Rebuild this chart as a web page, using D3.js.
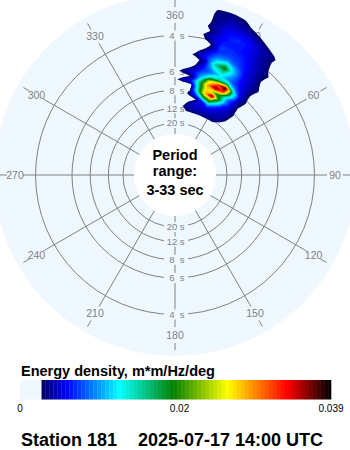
<!DOCTYPE html>
<html><head><meta charset="utf-8">
<script src="https://cdn.jsdelivr.net/npm/d3@7"></script>
<style>body{margin:0;background:#fff} svg{display:block}</style>
</head><body><svg id="c" width="350" height="450"></svg>
<script>
// ---- data ----
const directionBins = [-5,0,5,10,15,20,25,30,35,40,45,50,55];          // deg (from)
const frequencyBins = [0.07,0.08,0.09,0.10,0.11,0.12,0.13,0.14,0.15,0.16,0.17,0.18,0.19,0.20,
                       0.21,0.22,0.23,0.24,0.25,0.26,0.27,0.28,0.29,0.30,0.31,0.32,0.33,0.34]; // Hz
// energy density, 1e-3 m*m/Hz/deg ; rows = frequency, cols = direction
const energyMilli = [
 [0,0,0,0,0,0,0,0,0,0,0,0,0],
 [0,0,1.5,2.8,3.2,3.3,3.3,3.2,2.9,1.5,0,0,0],
 [0,0,2.2,4.0,4.4,4.5,4.5,4.3,3.9,3.0,1.0,0,0],
 [0,0,1.2,2.8,5.0,5.2,5.4,5.0,4.5,4.0,2.0,0,0],
 [0,0,0.8,1.8,2.5,6.0,12,7.0,5.0,4.2,2.3,0,0],
 [0,0,1.5,3.3,8,18,22,13,6.0,4.3,2.6,0,0],
 [0,0,1.2,2.5,14,28,37,19,9,4.5,2.2,0,0],
 [0,0,1.0,1.5,15,27,22,18,9,4.6,1.8,0,0],
 [0,2.0,4.5,6.5,16,29,37,32,14,4.8,2.3,0,0],
 [0,0,1.5,3.2,12,24,30,39,16,5.0,2.6,0,0],
 [0,1.5,4.0,5.5,9,13,15,16,9,4.8,2.2,0,0],
 [0,0,1.5,3.5,7.0,9,12,9,6.5,4.6,2.0,0,0],
 [0,0,0.8,2.0,6.0,12,15,10,6.0,4.4,2.4,0,0],
 [0,0,0.5,1.5,4.5,15,20,11,6.0,4.3,2.8,0,0],
 [0,0,1.2,3.6,6.5,11,14,9.5,5.5,4.2,2.2,0,0],
 [0,0,0.5,2.2,5.5,8.5,9,7.5,5.5,4.0,1.6,0,0],
 [0,0,0,1.2,3.2,7.0,7.5,7.0,5.2,3.8,2.0,0,0],
 [0,0,0,0.8,2.4,7.5,7.0,6.5,5.0,3.6,2.4,0,0],
 [0,0,0,1.5,4.0,6.5,6.5,6.0,4.8,3.5,1.5,0,0],
 [0,0,0,2.0,4.6,6.0,6.5,6.0,4.6,3.2,1.2,0,0],
 [0,0,0,1.2,3.2,6.0,7.0,6.0,4.4,3.0,1.0,0,0],
 [0,0,0,1.5,4.0,5.5,6.0,5.5,4.2,3.3,0.8,0,0],
 [0,0,0,1.2,3.5,5.0,5.0,4.5,3.2,2.0,0,0,0],
 [0,0,0,1.0,3.4,4.5,4.2,3.3,2.0,0.8,0,0,0],
 [0,0,0,1.0,3.3,3.8,3.3,2.0,0.8,0,0,0,0],
 [0,0,0,0.8,3.0,3.2,2.6,1.0,0,0,0,0,0],
 [0,0,0,0.4,1.5,1.5,0.8,0,0,0,0,0,0],
 [0,0,0,0,0,0,0,0,0,0,0,0,0]
];
const periodRange = [3, 33];               // sec
const periodRings = [4, 6, 8, 12, 20];     // sec
const directionTicks = [0,30,60,90,120,150,180,210,240,270,300,330];
const colorStops = [0.0027, 0.0059, 0.0125, 0.0192, 0.026, 0.0335, 0.039];
const colorStopColors = ["#000064","#0000ff","#00ffff","#008000","#ffff00","#ff0000","#000000"];
const colorbarTicks = [0, 0.02, 0.039];
const colorbarTickLabels = ["0", "0.02", "0.039"];
const titleText = "Energy density, m*m/Hz/deg";
const stationText = "Station 181";
const dateText = "2025-07-17 14:00 UTC";

// ---- drawing ----
const svg = d3.select("#c");
const cx = 175, cy = 175, discR = 181;
const grey = "#808080", disc = "#f0f8ff";
const rScale = d3.scaleLinear().domain([1/periodRange[1], 1/periodRange[0]]).range([43.4, 175.9]);
const innerR = 41;
const pol = (deg, r) => { const a = deg*Math.PI/180; return [cx + r*Math.sin(a), cy - r*Math.cos(a)]; };

svg.append("circle").attr("cx",cx).attr("cy",cy).attr("r",discR).attr("fill",disc);

const grid = svg.append("g").attr("stroke",grey).attr("stroke-width",1).attr("fill","none");
periodRings.forEach(p => grid.append("circle").attr("cx",cx).attr("cy",cy).attr("r",rScale(1/p)));
directionTicks.forEach(d => {
  const a = pol(d, innerR), b = pol(d, 152), t0 = pol(d, 168), t1 = pol(d, 175);
  grid.append("line").attr("x1",a[0]).attr("y1",a[1]).attr("x2",b[0]).attr("y2",b[1]);
  grid.append("line").attr("x1",t0[0]).attr("y1",t0[1]).attr("x2",t1[0]).attr("y2",t1[1]);
});
directionTicks.forEach(d => {
  const p = pol(d, 160);
  svg.append("text").attr("x",p[0]).attr("y",p[1]).attr("dy","0.36em")
    .attr("text-anchor","middle").attr("font-family","Liberation Sans, Arial, sans-serif")
    .attr("font-size",10.5).attr("fill",grey).text(d===0 ? "360" : String(d));
});
// ring labels on north and south
periodRings.forEach(p => {
  [-1, 1].forEach(s => {
    const y = cy + s*rScale(1/p);
    svg.append("rect").attr("x",164).attr("y",y-5).attr("width",24).attr("height",10).attr("fill",disc);
    svg.append("text").attr("x",172).attr("y",y).attr("dy","0.36em").attr("text-anchor","middle")
      .attr("font-family","Liberation Sans, Arial, sans-serif").attr("font-size",9.5).attr("fill",grey).text(p);
    svg.append("text").attr("x",182).attr("y",y).attr("dy","0.36em").attr("text-anchor","middle")
      .attr("font-family","Liberation Sans, Arial, sans-serif").attr("font-size",9.5).attr("fill",grey).text("s");
  });
});

// spectrum contours
const nC = directionBins.length, nR = frequencyBins.length;
const flat = [];
for (let r = 0; r < nR; r++) for (let c = 0; c < nC; c++) flat.push(energyMilli[r][c] / 1000);
const dirOfGrid = d3.scaleLinear().domain([0.5, nC-0.5]).range([directionBins[0], directionBins[nC-1]]);
const frqOfGrid = d3.scaleLinear().domain([0.5, nR-0.5]).range([frequencyBins[0], frequencyBins[nR-1]]);
const color = d3.scaleLinear().domain(colorStops).range(colorStopColors).interpolate(d3.interpolateRgb).clamp(true);
const step = 0.0005;
const thresholds = d3.range(colorStops[0], 0.039, step);
const toXY = (gx, gy) => pol(dirOfGrid(gx), rScale(frqOfGrid(gy)));
function ringD(ring) {
  let s = "";
  for (let i = 0; i < ring.length - 1; i++) {
    const [x0,y0] = ring[i], [x1,y1] = ring[i+1];
    for (let k = 0; k < 4; k++) {
      const t = k/4, q = toXY(x0 + (x1-x0)*t, y0 + (y1-y0)*t);
      s += (i===0 && k===0 ? "M" : "L") + q[0].toFixed(2) + "," + q[1].toFixed(2);
    }
  }
  return s + "Z";
}
const contours = d3.contours().size([nC, nR]).thresholds(thresholds)(flat);
const spec = svg.append("g");
contours.forEach(c => {
  if (!c.coordinates.length) return;
  const d = c.coordinates.map(poly => poly.map(ringD).join("")).join("");
  spec.append("path").attr("d", d).attr("fill", color(c.value + step/2)).attr("fill-rule","evenodd");
});

// inner white circle + text
svg.append("circle").attr("cx",cx).attr("cy",cy).attr("r",innerR).attr("fill","#fff");
const ct = svg.append("g").attr("font-family","Liberation Sans, Arial, sans-serif").attr("font-weight","bold")
  .attr("font-size",14.5).attr("text-anchor","middle").attr("fill","#000");
ct.append("text").attr("x",cx).attr("y",159.5).text("Period");
ct.append("text").attr("x",cx).attr("y",175.5).text("range:");
ct.append("text").attr("x",cx).attr("y",195).text(periodRange[0] + "-" + periodRange[1] + " sec");

// colorbar
svg.append("rect").attr("x",0).attr("y",356).attr("width",350).attr("height",94).attr("fill","#fff");
svg.append("text").attr("x",21).attr("y",375.5).attr("font-family","Liberation Sans, Arial, sans-serif")
  .attr("font-weight","bold").attr("font-size",14.5).text(titleText);
const xBar = d3.scaleLinear().domain([0, 0.039]).range([20, 331]);
svg.append("rect").attr("x",xBar(0)).attr("y",380).attr("width",xBar(colorStops[0])-xBar(0)).attr("height",19.5).attr("fill",disc);
svg.append("g").selectAll("rect").data(thresholds).join("rect")
  .attr("x", t => xBar(t)).attr("y",380).attr("width", t => xBar(Math.min(t+step,0.039)) - xBar(t) + 0.3)
  .attr("height",19.5).attr("fill", t => color(t + step/2));
svg.append("g").selectAll("text").data(colorbarTicks).join("text")
  .attr("x", v => xBar(v)).attr("y",411.5).attr("text-anchor","middle")
  .attr("font-family","Liberation Sans, Arial, sans-serif").attr("font-size",10).attr("fill","#000")
  .text((v,i) => colorbarTickLabels[i]);
const ft = svg.append("g").attr("font-family","Liberation Sans, Arial, sans-serif").attr("font-weight","bold").attr("font-size",18);
ft.append("text").attr("x",21).attr("y",445.5).text(stationText);
ft.append("text").attr("x",138).attr("y",445.5).text(dateText);
</script></body></html>
